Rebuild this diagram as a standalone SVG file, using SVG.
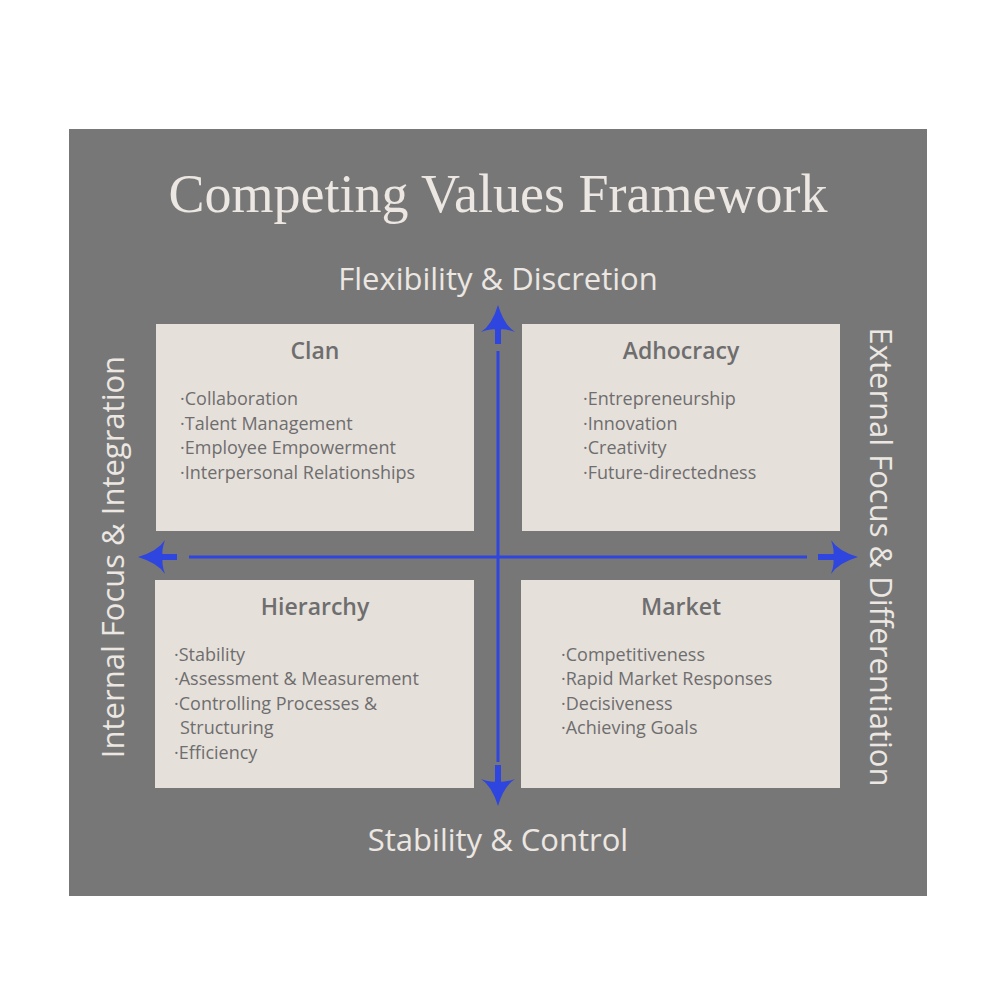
<svg xmlns="http://www.w3.org/2000/svg" width="984" height="985" viewBox="0 0 984 985">
<style>
.box{fill:#e6e0db}
.h{font-family:"Open Sans",sans-serif;font-size:23px;fill:#6e6e6e;text-anchor:middle;font-weight:600}
.b{font-family:"Open Sans",sans-serif;font-size:18px;fill:#6e6e6e}
.ax{font-family:"Open Sans",sans-serif;font-size:31px;fill:#ece7e2;text-anchor:middle}
.ln{stroke:#2e45e0;stroke-width:3;fill:none}
.sh{stroke:#2e45e0;stroke-width:6;fill:none}
.ah{fill:#2e45e0}
</style>
<defs>
<path id="arr" class="ah" d="M0,0 Q-6,20 -17,27 Q-6,23 0,25 Q6,23 17,27 Q6,20 0,0Z"/>
</defs>
<rect x="0" y="0" width="984" height="985" fill="#fff"/>
<rect x="69" y="129" width="858" height="767" fill="#777777"/>
<text x="498" y="212" font-family="'Liberation Serif',serif" font-size="54" fill="#ece7e2" text-anchor="middle">Competing Values Framework</text>
<text class="ax" x="498" y="290">Flexibility &amp; Discretion</text>
<text class="ax" x="498" y="851">Stability &amp; Control</text>
<text class="ax" transform="translate(124,557) rotate(-90)">Internal Focus &amp; Integration</text>
<text class="ax" transform="translate(870,557) rotate(90)">External Focus &amp; Differentiation</text>
<g id="clan"><rect class="box" x="156" y="324" width="318" height="207"/>
<text class="h" x="315" y="359">Clan</text>
<text class="b" x="180" y="405">·Collaboration</text><text class="b" x="180" y="430">·Talent Management</text><text class="b" x="180" y="454">·Employee Empowerment</text><text class="b" x="180" y="479">·Interpersonal Relationships</text></g>
<g id="adhocracy"><rect class="box" x="522" y="324" width="318" height="207"/>
<text class="h" x="681" y="359">Adhocracy</text>
<text class="b" x="583" y="405">·Entrepreneurship</text><text class="b" x="583" y="430">·Innovation</text><text class="b" x="583" y="454">·Creativity</text><text class="b" x="583" y="479">·Future-directedness</text></g>
<g id="hierarchy"><rect class="box" x="155" y="580" width="319" height="208"/>
<text class="h" x="315" y="615">Hierarchy</text>
<text class="b" x="174" y="661">·Stability</text><text class="b" x="174" y="685">·Assessment &amp; Measurement</text><text class="b" x="174" y="710">·Controlling Processes &amp;</text><text class="b" x="180" y="734">Structuring</text><text class="b" x="174" y="759">·Efficiency</text></g>
<g id="market"><rect class="box" x="521" y="580" width="319" height="208"/>
<text class="h" x="681" y="615">Market</text>
<text class="b" x="561" y="661">·Competitiveness</text><text class="b" x="561" y="685">·Rapid Market Responses</text><text class="b" x="561" y="710">·Decisiveness</text><text class="b" x="561" y="734">·Achieving Goals</text></g>
<g id="connectors">
<line class="ln" x1="498" y1="351" x2="498" y2="762"/>
<line class="sh" x1="498" y1="328" x2="498" y2="344"/>
<line class="sh" x1="498" y1="765" x2="498" y2="782"/>
<use href="#arr" transform="translate(498,305)"/>
<use href="#arr" transform="translate(498,806) rotate(180)"/>
<line class="ln" x1="189" y1="557" x2="807" y2="557"/>
<line class="sh" x1="162" y1="557" x2="177" y2="557"/>
<line class="sh" x1="818" y1="557" x2="834" y2="557"/>
<use href="#arr" transform="translate(138,557) rotate(-90)"/>
<use href="#arr" transform="translate(858,557) rotate(90)"/>
</g>
</svg>
